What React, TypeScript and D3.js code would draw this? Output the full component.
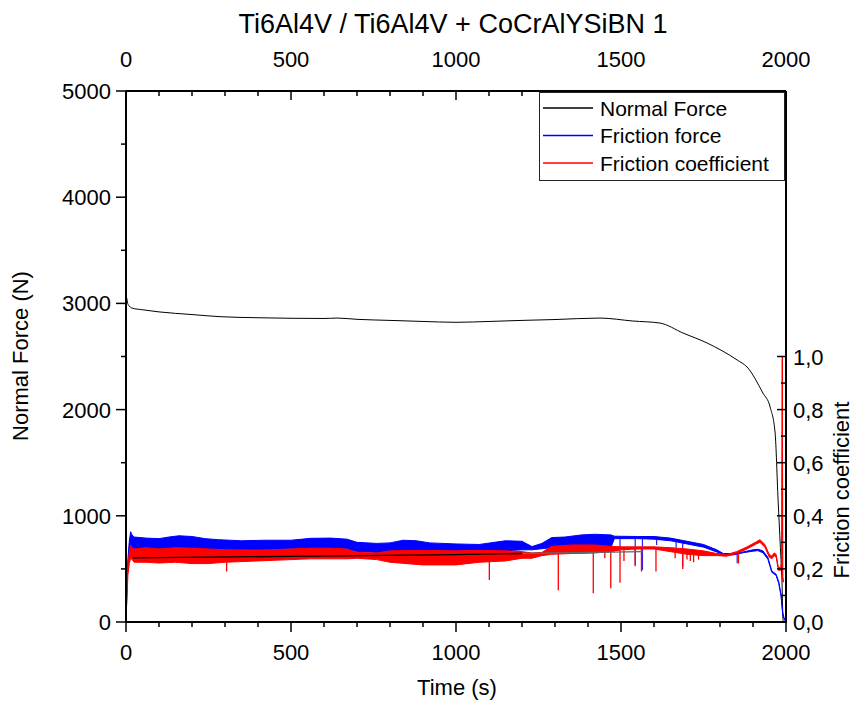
import React from "react";
import * as d3 from "d3";

// ---------- data ----------
const timeTicks = [0, 500, 1000, 1500, 2000];
const forceTicks = [0, 1000, 2000, 3000, 4000, 5000];
const coefTicks = [0, 0.2, 0.4, 0.6, 0.8, 1.0];

// Normal force (N)
const normalT = [0, 2, 5, 10, 17, 50, 100, 200, 285, 400, 500, 600, 640, 700, 800, 900, 1000, 1100, 1200, 1300, 1436, 1536, 1618, 1688, 1761, 1852, 1882, 1930, 1952, 1967, 1976, 1983, 1988, 1991, 1994];
const normalN = [3030, 3050, 3000, 2975, 2957, 2940, 2920, 2895, 2875, 2865, 2860, 2858, 2862, 2850, 2840, 2830, 2822, 2830, 2840, 2848, 2862, 2834, 2815, 2721, 2627, 2467, 2401, 2156, 2024, 1780, 1149, 700, 367, 19, 0];

// Friction force (N): noise envelope
const frictionT = [0, 3, 6, 10, 14, 18, 25, 60, 100, 130, 160, 200, 240, 280, 350, 420, 500, 560, 620, 670, 700, 760, 800, 840, 880, 920, 1000, 1070, 1150, 1200, 1230, 1260, 1290, 1330, 1380, 1420, 1470, 1480, 1550, 1600, 1650, 1700, 1750, 1790, 1810, 1840, 1870, 1900, 1915, 1930, 1945, 1957, 1970, 1978, 1985, 1990, 1994, 1998];
const frictionHi = [0, 350, 600, 760, 850, 820, 800, 790, 785, 800, 812, 805, 785, 775, 765, 770, 770, 788, 790, 780, 750, 740, 745, 770, 765, 745, 735, 730, 765, 760, 710, 740, 795, 800, 820, 826, 820, 808, 805, 805, 790, 760, 730, 680, 645, 645, 660, 680, 685, 670, 610, 480, 450, 380, 260, 90, 40, 20];
const frictionLo = [0, 300, 550, 680, 700, 690, 690, 690, 690, 690, 695, 690, 685, 680, 680, 680, 690, 690, 690, 680, 665, 655, 655, 660, 660, 655, 650, 660, 670, 680, 680, 690, 700, 705, 705, 710, 705, 785, 785, 780, 765, 735, 705, 660, 630, 632, 652, 667, 672, 652, 592, 468, 438, 362, 244, 72, 30, 10];

// Friction coefficient: noise envelope
const coefT = [0, 3, 6, 10, 14, 18, 25, 60, 100, 150, 200, 250, 300, 400, 500, 560, 620, 670, 700, 760, 800, 900, 1000, 1070, 1150, 1200, 1230, 1260, 1290, 1350, 1420, 1470, 1500, 1550, 1600, 1650, 1700, 1750, 1790, 1820, 1850, 1880, 1910, 1921, 1936, 1949, 1957, 1964, 1970, 1977, 1984, 1987, 1989, 1990, 1992];
const coefHi = [0, 0.16, 0.22, 0.26, 0.29, 0.28, 0.275, 0.28, 0.275, 0.28, 0.278, 0.275, 0.272, 0.27, 0.275, 0.278, 0.278, 0.275, 0.262, 0.26, 0.268, 0.27, 0.268, 0.27, 0.268, 0.265, 0.26, 0.262, 0.285, 0.29, 0.29, 0.285, 0.283, 0.283, 0.283, 0.28, 0.275, 0.268, 0.258, 0.254, 0.265, 0.282, 0.302, 0.31, 0.292, 0.255, 0.248, 0.26, 0.255, 0.205, 0.205, 0.235, 1.0, 0.17, 0.16];
const coefLo = [0, 0.1, 0.18, 0.22, 0.24, 0.235, 0.225, 0.225, 0.222, 0.225, 0.22, 0.22, 0.225, 0.23, 0.235, 0.238, 0.238, 0.238, 0.24, 0.235, 0.225, 0.215, 0.215, 0.225, 0.23, 0.24, 0.24, 0.25, 0.255, 0.258, 0.26, 0.265, 0.272, 0.275, 0.275, 0.265, 0.255, 0.25, 0.25, 0.248, 0.258, 0.274, 0.294, 0.3, 0.282, 0.245, 0.238, 0.25, 0.245, 0.195, 0.195, 0.225, 0.99, 0.16, 0.15];

// downward spikes: [time, minimum]
const coefSpikeT = [305, 1101, 1310, 1416, 1451, 1469, 1497, 1509, 1543, 1562, 1606, 1664, 1687, 1700, 1710, 1720, 1735, 1856];
const coefSpikeMin = [0.19, 0.158, 0.12, 0.108, 0.24, 0.127, 0.148, 0.23, 0.21, 0.19, 0.19, 0.24, 0.2, 0.235, 0.23, 0.225, 0.235, 0.22];
const frictionSpikeT = [1497, 1543, 1565, 1608, 1667, 1687, 1852];
const frictionSpikeMin = [694, 537, 490, 725, 700, 521, 553];

// thin mean line (N)
const meanT = [20, 500, 1000, 1200];
const meanN = [603, 618, 635, 645];
const meanT2 = [1200, 1567];
const meanN2 = [645, 662];

const legendItems = ["Normal Force", "Friction force", "Friction coefficient"];
const legendColors = ["#000000", "#0000ff", "#ff0000"];

// ---------- layout ----------
const W = 854, H = 704;
const L = 126, R = 786, T = 91, B = 622;
const FONT = "'Liberation Sans', Arial, sans-serif";

export default function App() {
  const x = d3.scaleLinear().domain([0, 2000]).range([L, R]);
  const yL = d3.scaleLinear().domain([0, 5000]).range([B, T]);
  const yR = d3.scaleLinear().domain([0, 2.0]).range([B, T]);

  const timeMinor = d3.range(0, 2001, 100).filter((v) => !timeTicks.includes(v));
  const forceMinor = d3.range(500, 5000, 1000);
  const coefMinor = d3.range(0.1, 1.0, 0.2);

  const lineN = d3
    .line<number>()
    .x((_, i) => x(normalT[i]))
    .y((d) => yL(d))
    .curve(d3.curveMonotoneX);
  const areaF = d3
    .area<number>()
    .x((_, i) => x(frictionT[i]))
    .y0((_, i) => yL(frictionLo[i]))
    .y1((d) => yL(d));
  const areaC = d3
    .area<number>()
    .x((_, i) => x(coefT[i]))
    .y0((_, i) => yR(coefLo[i]))
    .y1((d) => yR(d));
  const lineM = d3.line<number>().x((_, i) => x(meanT[i])).y((d) => yL(d));
  const lineM2 = d3.line<number>().x((_, i) => x(meanT2[i])).y((d) => yL(d));

  const coefLoAt = d3.scaleLinear().domain(coefT).range(coefLo);
  const fricLoAt = d3.scaleLinear().domain(frictionT).range(frictionLo);
  const fmtC = (v: number) => d3.format(".1f")(v).replace(".", ",");

  return (
    <svg
      width={W}
      height={H}
      style={{ position: "absolute", left: 0, top: 0, background: "#fff" }}
      fontFamily={FONT}
    >
      <rect x={0} y={0} width={W} height={H} fill="#fff" />
      <text x={453} y={33} fontSize={27} textAnchor="middle" fill="#000">
        Ti6Al4V / Ti6Al4V + CoCrAlYSiBN 1
      </text>

      {/* data */}
      <g>
        <path d={lineN(normalN) || ""} fill="none" stroke="#000" strokeWidth={1} />
        <path d={areaF(frictionHi) || ""} fill="#0000ff" stroke="#0000ff" strokeWidth={1} />
        {frictionSpikeT.map((t, i) => (
          <line
            key={"fs" + i}
            x1={x(t)}
            x2={x(t)}
            y1={yL(fricLoAt(t))}
            y2={yL(frictionSpikeMin[i])}
            stroke="#2020ff"
            strokeWidth={1.2}
          />
        ))}
        <path d={areaC(coefHi) || ""} fill="#ff0000" stroke="#ff0000" strokeWidth={1} />
        {coefSpikeT.map((t, i) => (
          <line
            key={"cs" + i}
            x1={x(t)}
            x2={x(t)}
            y1={yR(coefLoAt(t))}
            y2={yR(coefSpikeMin[i])}
            stroke="#ff0000"
            strokeWidth={1.3}
          />
        ))}
        <path d={lineM(meanN) || ""} fill="none" stroke="#000" strokeWidth={1.3} />
        <path d={lineM2(meanN2) || ""} fill="none" stroke="#666" strokeWidth={1.3} />
      </g>

      {/* frame lines */}
      <line x1={L} x2={R} y1={T} y2={T} stroke="#000" strokeWidth={2} />
      <line x1={R} x2={R} y1={T} y2={B} stroke="#000" strokeWidth={2} />
      <line x1={L} x2={L} y1={T} y2={B + 1} stroke="#000" strokeWidth={2} />
      <line x1={L - 1} x2={R + 1} y1={B} y2={B} stroke="#000" strokeWidth={2} />

      {/* bottom & top axes */}
      {timeTicks.map((t) => (
        <g key={"bt" + t}>
          <line x1={x(t)} x2={x(t)} y1={B} y2={B + 10} stroke="#000" strokeWidth={1.5} />
          <text x={x(t)} y={660} fontSize={22} textAnchor="middle">{t}</text>
          <line x1={x(t)} x2={x(t)} y1={T} y2={T + 9} stroke="#000" strokeWidth={1.5} />
          <text x={x(t)} y={67} fontSize={22} textAnchor="middle">{t}</text>
        </g>
      ))}
      {timeMinor.map((t) => (
        <g key={"bm" + t}>
          <line x1={x(t)} x2={x(t)} y1={B} y2={B + 5} stroke="#000" strokeWidth={1.5} />
          <line x1={x(t)} x2={x(t)} y1={T} y2={T + 5} stroke="#000" strokeWidth={1.5} />
        </g>
      ))}
      <text x={457} y={695} fontSize={22} textAnchor="middle">Time (s)</text>

      {/* left axis */}
      {forceTicks.map((v) => (
        <g key={"lt" + v}>
          <line x1={L - 10} x2={L} y1={yL(v)} y2={yL(v)} stroke="#000" strokeWidth={1.5} />
          <text x={111} y={yL(v) + 8} fontSize={22} textAnchor="end">{v}</text>
        </g>
      ))}
      {forceMinor.map((v) => (
        <line key={"lm" + v} x1={L - 5} x2={L} y1={yL(v)} y2={yL(v)} stroke="#000" strokeWidth={1.5} />
      ))}
      <text transform={`translate(28,356) rotate(-90)`} fontSize={22} textAnchor="middle">
        Normal Force (N)
      </text>

      {/* right axis */}
      {coefTicks.map((v) => (
        <g key={"rt" + v}>
          <line x1={R - 9} x2={R} y1={yR(v)} y2={yR(v)} stroke="#000" strokeWidth={1.5} />
          <text x={793} y={yR(v) + 8} fontSize={22} textAnchor="start">{fmtC(v)}</text>
        </g>
      ))}
      {coefMinor.map((v) => (
        <line key={"rm" + v} x1={R - 5} x2={R} y1={yR(v)} y2={yR(v)} stroke="#000" strokeWidth={1.5} />
      ))}
      <text transform={`translate(849,490) rotate(-90)`} fontSize={22} textAnchor="middle">
        Friction coefficient
      </text>

      {/* legend */}
      <rect x={539.5} y={92.5} width={245} height={88} fill="#fff" stroke="#222" strokeWidth={1} />
      {legendItems.map((name, i) => (
        <g key={name}>
          <line
            x1={543}
            x2={593}
            y1={108 + i * 27.5}
            y2={108 + i * 27.5}
            stroke={legendColors[i]}
            strokeWidth={1.3}
          />
          <text x={600} y={115.5 + i * 27.5} fontSize={21} fill="#000">{name}</text>
        </g>
      ))}
    </svg>
  );
}
